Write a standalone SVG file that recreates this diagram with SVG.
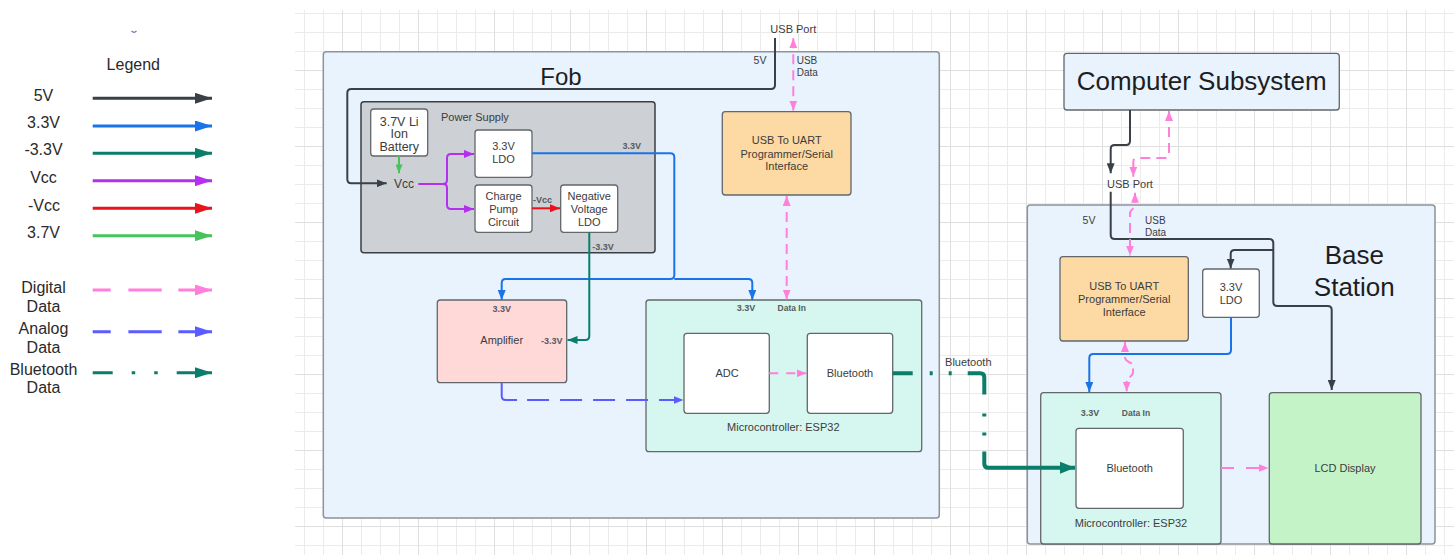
<svg xmlns="http://www.w3.org/2000/svg" width="1454" height="555" viewBox="0 0 1454 555">
  <style>
    text { font-family: "Liberation Sans", Arial, sans-serif; fill: #3c3c3c; }
    .lg { font-size: 16px; fill: #2a2a2a; text-anchor: middle; }
    .title { font-size: 26px; fill: #1e1e1e; text-anchor: middle; }
    .t11 { font-size: 11px; text-anchor: middle; }
    .t10 { font-size: 10px; }
    .lbl { font-size: 9px; font-weight: bold; fill: #555b61; text-anchor: middle; }
    .container { fill: #e8f3fe; stroke: #8d9399; stroke-width: 1.5; }
    .box { stroke: #62676c; stroke-width: 1.3; }
    .white { fill: #ffffff; }
    .wire { fill: none; stroke-width: 2; stroke-linejoin: round; }
    .k { stroke: #3a4047; }
    .b { stroke: #1a73e8; }
    .tl { stroke: #0b7d6b; }
    .p { stroke: #b52ff0; }
    .r { stroke: #e8141c; }
    .g { stroke: #46c35a; }
    .pk { stroke: #ff7fdb; stroke-dasharray: 10 6; }
    .an { stroke: #5a5cff; }
    .bt { stroke-width: 4; stroke-dasharray: 20 17 3 16 3 16 36 19 3 16 3 16 300; }
    .legend-line { fill: none; stroke-width: 3; }
  </style>
  <defs>
    <pattern id="grid" x="342" y="70" width="76" height="76" patternUnits="userSpaceOnUse">
      <path d="M19.5,0 V76 M38.5,0 V76 M57.5,0 V76 M0,19.5 H76 M0,38.5 H76 M0,57.5 H76" stroke="#ebebeb" stroke-width="1" fill="none"/>
      <path d="M0.5,0 V76 M0,0.5 H76" stroke="#dfdfdf" stroke-width="1" fill="none"/>
    </pattern>
    <!-- connector arrowheads -->
    <marker id="a-k" markerUnits="userSpaceOnUse" viewBox="0 0 10 8" markerWidth="10" markerHeight="8" refX="10" refY="4" orient="auto-start-reverse"><path d="M0,0 L10,4 L0,8 z" fill="#3a4047"/></marker>
    <marker id="a-b" markerUnits="userSpaceOnUse" viewBox="0 0 10 8" markerWidth="10" markerHeight="8" refX="10" refY="4" orient="auto-start-reverse"><path d="M0,0 L10,4 L0,8 z" fill="#1a73e8"/></marker>
    <marker id="a-tl" markerUnits="userSpaceOnUse" viewBox="0 0 10 8" markerWidth="10" markerHeight="8" refX="10" refY="4" orient="auto-start-reverse"><path d="M0,0 L10,4 L0,8 z" fill="#0b7d6b"/></marker>
    <marker id="a-p" markerUnits="userSpaceOnUse" viewBox="0 0 10 8" markerWidth="10" markerHeight="8" refX="10" refY="4" orient="auto-start-reverse"><path d="M0,0 L10,4 L0,8 z" fill="#b52ff0"/></marker>
    <marker id="a-r" markerUnits="userSpaceOnUse" viewBox="0 0 10 8" markerWidth="10" markerHeight="8" refX="10" refY="4" orient="auto-start-reverse"><path d="M0,0 L10,4 L0,8 z" fill="#e8141c"/></marker>
    <marker id="a-g" markerUnits="userSpaceOnUse" viewBox="0 0 10 8" markerWidth="9" markerHeight="7" refX="10" refY="4" orient="auto-start-reverse"><path d="M0,0 L10,4 L0,8 z" fill="#46c35a"/></marker>
    <marker id="a-pk" markerUnits="userSpaceOnUse" viewBox="0 0 10 8" markerWidth="10" markerHeight="8" refX="10" refY="4" orient="auto-start-reverse"><path d="M0,0 L10,4 L0,8 z" fill="#ff7fdb"/></marker>
    <marker id="a-an" markerUnits="userSpaceOnUse" viewBox="0 0 10 8" markerWidth="10" markerHeight="8" refX="10" refY="4" orient="auto-start-reverse"><path d="M0,0 L10,4 L0,8 z" fill="#5a5cff"/></marker>
    <marker id="a-bt" markerUnits="userSpaceOnUse" viewBox="0 0 15 12" markerWidth="15" markerHeight="12" refX="15" refY="6" orient="auto"><path d="M0,0 L15,6 L0,12 z" fill="#0b7d6b"/></marker>
    <!-- legend arrowheads -->
    <marker id="l-k" markerUnits="userSpaceOnUse" viewBox="0 0 17 11" markerWidth="17" markerHeight="11" refX="17" refY="5.5" orient="auto"><path d="M0,0 L17,5.5 L0,11 z" fill="#3a4047"/></marker>
    <marker id="l-b" markerUnits="userSpaceOnUse" viewBox="0 0 17 11" markerWidth="17" markerHeight="11" refX="17" refY="5.5" orient="auto"><path d="M0,0 L17,5.5 L0,11 z" fill="#1a73e8"/></marker>
    <marker id="l-tl" markerUnits="userSpaceOnUse" viewBox="0 0 17 11" markerWidth="17" markerHeight="11" refX="17" refY="5.5" orient="auto"><path d="M0,0 L17,5.5 L0,11 z" fill="#0b7d6b"/></marker>
    <marker id="l-p" markerUnits="userSpaceOnUse" viewBox="0 0 17 11" markerWidth="17" markerHeight="11" refX="17" refY="5.5" orient="auto"><path d="M0,0 L17,5.5 L0,11 z" fill="#b52ff0"/></marker>
    <marker id="l-r" markerUnits="userSpaceOnUse" viewBox="0 0 17 11" markerWidth="17" markerHeight="11" refX="17" refY="5.5" orient="auto"><path d="M0,0 L17,5.5 L0,11 z" fill="#e8141c"/></marker>
    <marker id="l-g" markerUnits="userSpaceOnUse" viewBox="0 0 17 11" markerWidth="17" markerHeight="11" refX="17" refY="5.5" orient="auto"><path d="M0,0 L17,5.5 L0,11 z" fill="#46c35a"/></marker>
    <marker id="l-pk" markerUnits="userSpaceOnUse" viewBox="0 0 17 11" markerWidth="17" markerHeight="11" refX="17" refY="5.5" orient="auto"><path d="M0,0 L17,5.5 L0,11 z" fill="#ff7fdb"/></marker>
    <marker id="l-an" markerUnits="userSpaceOnUse" viewBox="0 0 17 11" markerWidth="17" markerHeight="11" refX="17" refY="5.5" orient="auto"><path d="M0,0 L17,5.5 L0,11 z" fill="#5a5cff"/></marker>
  </defs>

  <rect width="1454" height="555" fill="#ffffff"/>
  <rect x="295" y="10" width="1159" height="545" fill="url(#grid)"/>

  <!-- Legend -->
  <g id="legend">
    <path d="M131.5,31 Q134,33.5 136.5,31" fill="none" stroke="#7b6fd6" stroke-width="1.2"/>
    <text class="lg" x="133.3" y="70">Legend</text>
    <text class="lg" x="43.5" y="100.8">5V</text>
    <text class="lg" x="43.5" y="127.5">3.3V</text>
    <text class="lg" x="43.5" y="155">-3.3V</text>
    <text class="lg" x="43.5" y="182.5">Vcc</text>
    <text class="lg" x="44" y="210.8">-Vcc</text>
    <text class="lg" x="43.5" y="238">3.7V</text>
    <text class="lg" x="43.5" y="293">Digital</text>
    <text class="lg" x="43.5" y="311.8">Data</text>
    <text class="lg" x="43.5" y="334">Analog</text>
    <text class="lg" x="43.5" y="352.5">Data</text>
    <text class="lg" x="43.5" y="375">Bluetooth</text>
    <text class="lg" x="43.5" y="393">Data</text>
    <path class="legend-line" d="M92.7,98.3 H212" stroke="#3a4047" marker-end="url(#l-k)"/>
    <path class="legend-line" d="M92.7,126 H212" stroke="#1a73e8" marker-end="url(#l-b)"/>
    <path class="legend-line" d="M92.7,153.3 H212" stroke="#0b7d6b" marker-end="url(#l-tl)"/>
    <path class="legend-line" d="M92.7,180.7 H212" stroke="#b52ff0" marker-end="url(#l-p)"/>
    <path class="legend-line" d="M92.7,208.3 H212" stroke="#e8141c" marker-end="url(#l-r)"/>
    <path class="legend-line" d="M92.7,235.7 H212" stroke="#46c35a" marker-end="url(#l-g)"/>
    <path class="legend-line" d="M92.7,290 H212" stroke="#ff7fdb" stroke-dasharray="18 17.7 33.3 16.7 40" marker-end="url(#l-pk)"/>
    <path class="legend-line" d="M92.7,331.7 H212" stroke="#5a5cff" stroke-dasharray="18 17.7 33.3 16.7 40" marker-end="url(#l-an)"/>
    <path class="legend-line" d="M92.7,372.7 H212" stroke="#0b7d6b" stroke-dasharray="20 19 3.5 19 3.5 19 40" marker-end="url(#l-tl)"/>
  </g>

  <!-- Fob -->
  <g id="fob">
    <rect class="container" x="323.3" y="51.7" width="616" height="466.3" rx="3"/>
    <text class="title" x="561" y="85" style="font-size:24px">Fob</text>
  </g>
  <g id="power-supply">
    <rect x="361" y="101.7" width="294" height="151" rx="3" fill="#cdd0d4" stroke="#3b3f44" stroke-width="1.5"/>
    <text x="441" y="120.7" style="font-size:11px">Power Supply</text>
  </g>
  <g id="battery">
    <rect class="box white" x="370.7" y="109" width="57" height="47" rx="3"/>
    <text x="399.2" y="125.5" style="font-size:12.5px;text-anchor:middle">3.7V Li</text>
    <text x="399.2" y="138" style="font-size:12.5px;text-anchor:middle">Ion</text>
    <text x="399.2" y="150.5" style="font-size:12.5px;text-anchor:middle">Battery</text>
  </g>
  <g id="vcc-node">
    <text x="404" y="188.3" style="font-size:12px;text-anchor:middle">Vcc</text>
  </g>
  <g id="ldo-fob">
    <rect class="box white" x="475" y="130" width="57" height="47.3" rx="3"/>
    <text class="t11" x="503.5" y="150">3.3V</text>
    <text class="t11" x="503.5" y="163">LDO</text>
  </g>
  <g id="charge-pump">
    <rect class="box white" x="475" y="185" width="57" height="47.3" rx="3"/>
    <text class="t11" x="503.5" y="200">Charge</text>
    <text class="t11" x="503.5" y="213">Pump</text>
    <text class="t11" x="503.5" y="226">Circuit</text>
  </g>
  <g id="neg-ldo">
    <rect class="box white" x="560.7" y="185" width="57" height="47.3" rx="3"/>
    <text class="t11" x="589.2" y="200">Negative</text>
    <text class="t11" x="589.2" y="213">Voltage</text>
    <text class="t11" x="589.2" y="226">LDO</text>
  </g>
  <g id="usb-uart-fob">
    <rect class="box" x="722.3" y="111.7" width="128.7" height="83.3" rx="3" fill="#fdd9a3"/>
    <text class="t11" x="786.7" y="144">USB To UART</text>
    <text class="t11" x="786.7" y="158">Programmer/Serial</text>
    <text class="t11" x="786.7" y="170">Interface</text>
  </g>
  <g id="amplifier">
    <rect class="box" x="437.3" y="300" width="129.4" height="82.7" rx="3" fill="#ffd8d8"/>
    <text class="lbl" x="501.7" y="311.5">3.3V</text>
    <text class="t11" x="501.7" y="344">Amplifier</text>
    <text class="lbl" x="551.7" y="344.3">-3.3V</text>
  </g>
  <g id="mcu-fob">
    <rect class="box" x="646" y="300" width="275.7" height="151.7" rx="3" fill="#d5f7ef"/>
    <text class="lbl" x="746" y="310.5">3.3V</text>
    <text class="lbl" x="791.7" y="310.5" style="font-size:8.5px">Data In</text>
    <text class="t11" x="783.3" y="431.3">Microcontroller: ESP32</text>
  </g>
  <g id="adc">
    <rect class="box white" x="684" y="333.3" width="85.3" height="80" rx="3"/>
    <text class="t11" x="727" y="377">ADC</text>
  </g>
  <g id="bt-fob">
    <rect class="box white" x="807.3" y="333.3" width="85.4" height="80" rx="3"/>
    <text class="t11" x="850" y="377">Bluetooth</text>
  </g>

  <!-- Computer and base station -->
  <g id="computer">
    <rect class="box" x="1064" y="53.3" width="275.3" height="56.7" rx="3" fill="#e8f3fe"/>
    <text class="title" x="1201.7" y="90">Computer Subsystem</text>
  </g>
  <g id="base-station">
    <rect class="container" x="1027.3" y="205" width="407.7" height="339" rx="3"/>
    <text class="title" x="1354.3" y="264">Base</text>
    <text class="title" x="1354.3" y="296">Station</text>
  </g>
  <g id="usb-uart-base">
    <rect class="box" x="1060" y="256.7" width="128.3" height="84.3" rx="3" fill="#fdd9a3"/>
    <text class="t11" x="1124.2" y="290">USB To UART</text>
    <text class="t11" x="1124.2" y="303.3">Programmer/Serial</text>
    <text class="t11" x="1124.2" y="315.7">Interface</text>
  </g>
  <g id="ldo-base">
    <rect class="box white" x="1202.7" y="269" width="56.6" height="48.3" rx="3"/>
    <text class="t11" x="1231" y="290.7">3.3V</text>
    <text class="t11" x="1231" y="303.7">LDO</text>
  </g>
  <g id="mcu-base">
    <rect class="box" x="1040.7" y="392.7" width="180.3" height="151.3" rx="3" fill="#d5f7ef"/>
    <text class="lbl" x="1090" y="415.5">3.3V</text>
    <text class="lbl" x="1136" y="415.5" style="font-size:8.5px">Data In</text>
    <text class="t11" x="1131" y="526.7">Microcontroller: ESP32</text>
  </g>
  <g id="bt-base">
    <rect class="box white" x="1076" y="428.3" width="107.3" height="80" rx="3"/>
    <text class="t11" x="1129.7" y="472.3">Bluetooth</text>
  </g>
  <g id="lcd">
    <rect class="box" x="1269.3" y="392.7" width="151.7" height="151.3" rx="3" fill="#c5f3c8"/>
    <text class="t11" x="1345" y="472">LCD Display</text>
  </g>

  <!-- Connectors -->
  <g id="connectors">
    <!-- fob power -->
    <path class="wire k" d="M775,38 V85 Q775,89 771,89 H351.3 Q347.3,89 347.3,93 V179.3 Q347.3,183.3 351.3,183.3 H386.7" marker-end="url(#a-k)"/>
    <path class="wire g" d="M399,156 V173.3" marker-end="url(#a-g)"/>
    <path class="wire p" d="M418.3,184 H443 Q447,184 447,180 V158 Q447,154 451,154 H474" marker-end="url(#a-p)"/>
    <path class="wire p" d="M443,184 Q447,184 447,188 V205 Q447,209 451,209 H474" marker-end="url(#a-p)"/>
    <path class="wire r" d="M532,208.3 H560" marker-end="url(#a-r)"/>
    <path class="wire b" d="M532,153.3 H670.3 Q674.3,153.3 674.3,157.3 V275 Q674.3,279 670.3,279 H505.7 Q501.7,279 501.7,283 V300" marker-end="url(#a-b)"/>
    <path class="wire b" d="M674.3,279 H748.3 Q752.3,279 752.3,283 V300" marker-end="url(#a-b)"/>
    <path class="wire tl" d="M589.3,232.3 V336 Q589.3,340 585.3,340 H567.5" marker-end="url(#a-tl)"/>
    <!-- fob data -->
    <path class="wire an" d="M501.7,382.7 V396 Q501.7,400 505.7,400 H683.5" stroke-dasharray="31 10 22 11 22 11 22 11 22 11 22 11 30" marker-end="url(#a-an)"/>
    <path class="wire pk" d="M793.3,38.3 V110.5" marker-start="url(#a-pk)" marker-end="url(#a-pk)"/>
    <path class="wire pk" d="M786.7,196 V299.5" marker-start="url(#a-pk)" marker-end="url(#a-pk)"/>
    <path class="wire pk" d="M769.3,373.3 H806.5" style="stroke-dasharray:9 8" marker-end="url(#a-pk)"/>
    <!-- bluetooth link -->
    <path class="wire tl bt" d="M892.7,373.3 H980.3 Q984.3,373.3 984.3,377.3 V463.7 Q984.3,467.7 988.3,467.7 H1075" marker-end="url(#a-bt)"/>
    <text class="t11" x="968.3" y="365.7">Bluetooth</text>
    <!-- USB port labels -->
    <text class="t11" x="793.3" y="33.3">USB Port</text>
    <text x="760" y="63.8" style="font-size:10.5px;text-anchor:middle">5V</text>
    <text class="t10" x="796.7" y="63.6">USB</text>
    <text class="t10" x="796.7" y="76.3">Data</text>
    <text class="lbl" x="542.5" y="202.5">-Vcc</text>
    <text class="lbl" x="631.7" y="149.3">3.3V</text>
    <text class="lbl" x="603" y="250">-3.3V</text>
    <!-- base station power -->
    <path class="wire k" d="M1130,110 V141 Q1130,145 1126,145 H1114.7 Q1110.7,145 1110.7,149 V173.3" marker-end="url(#a-k)"/>
    <path class="wire k" d="M1110.7,191.7 V235 Q1110.7,239 1114.7,239 H1269.3 Q1273.3,239 1273.3,243 V302 Q1273.3,306 1277.3,306 H1327.7 Q1331.7,306 1331.7,310 V390" marker-end="url(#a-k)"/>
    <path class="wire k" d="M1273.3,250 H1234.7 Q1230.7,250 1230.7,254 V268.5" marker-end="url(#a-k)"/>
    <path class="wire b" d="M1231,317.3 V350 Q1231,354 1227,354 H1093.3 Q1089.3,354 1089.3,358 V392" marker-end="url(#a-b)"/>
    <!-- base station data -->
    <path class="wire pk" d="M1169,111 V154 Q1169,158 1165,158 H1137.3 Q1133.3,158 1133.3,162 V176.7" marker-start="url(#a-pk)" marker-end="url(#a-pk)"/>
    <path class="wire pk" d="M1135,192.7 V205 C1135,210 1130,208 1130,214 V255.5" marker-start="url(#a-pk)" marker-end="url(#a-pk)"/>
    <path class="wire pk" d="M1125,342 V357 C1125,363 1133,361 1133,367 V372 C1133,378 1126.7,376 1126.7,382 V391.5" style="stroke-dasharray:10 5" marker-start="url(#a-pk)" marker-end="url(#a-pk)"/>
    <path class="wire pk" d="M1221,468 H1268.5" style="stroke-dasharray:13 12" marker-end="url(#a-pk)"/>
    <text class="t11" x="1130" y="188">USB Port</text>
    <text x="1089" y="223.8" style="font-size:10.5px;text-anchor:middle">5V</text>
    <text class="t10" x="1145" y="223.6">USB</text>
    <text class="t10" x="1145" y="236.3">Data</text>
  </g>
</svg>
